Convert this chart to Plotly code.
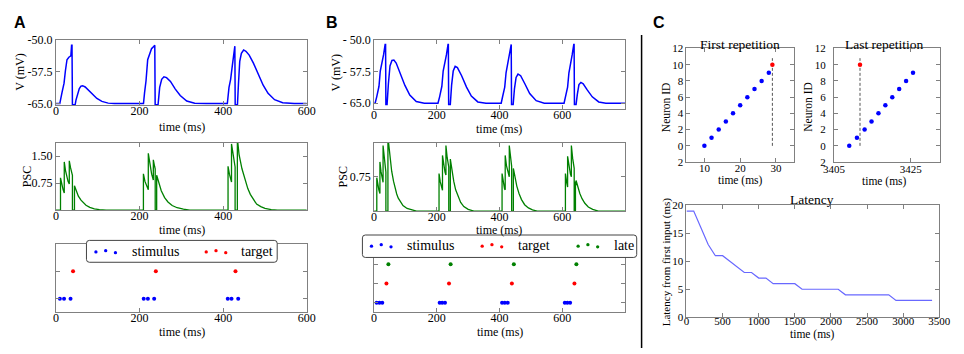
import plotly.graph_objects as go

W, H = 964, 354
SERIF = "Liberation Serif"
SANS = "Liberation Sans"

# ---------------- DATA ----------------
# Panel A – membrane potential (ms, mV)
a_v_t = [0, 9.3, 14.8, 19.5, 22.6, 26.5, 31, 35.8, 37.5, 38.5, 39.5, 46, 48, 52, 56, 60, 64, 70, 78, 88, 98, 110, 125, 140,
         209.5, 212, 215.5, 219.5, 223.4, 228.7, 231.8, 235.5, 236.5, 237.4, 244.3, 246, 248.2, 253, 258.4, 264.6, 274, 285.6, 297.3, 312.9, 332, 360,
         410, 414, 417.9, 421.8, 424.9, 427, 428, 428.8, 434.2, 436.6, 439.7, 443.6, 449, 454.5, 462.3, 472.4, 484, 495.7, 507.4, 523, 542.4, 570, 600]
a_v = [-65, -65, -62.3, -60.2, -57.4, -54.7, -54.1, -53.8, -51.3, -51.3, -65.3, -65.3, -64.2, -62.5, -61.5, -60.9, -60.8, -61.1, -61.9, -62.9, -63.8, -64.5, -64.9, -65,
       -65, -62.5, -59.7, -54.7, -53.6, -52.1, -51.8, -51.3, -51.3, -65.3, -65.3, -63.5, -61.2, -59.3, -58.7, -58.9, -59.8, -61.6, -63.1, -64.4, -64.9, -65,
       -65, -61.2, -59.3, -56.2, -54.0, -51.5, -51.5, -65.3, -65.3, -60.4, -55.1, -53.2, -52.4, -52.7, -53.6, -55.5, -58.1, -60.7, -62.6, -64.1, -64.8, -65, -65]

# Panel A – PSC
a_psc_t = [0, 11, 11, 14, 17, 20, 20, 23, 26, 29, 32, 32, 35, 38, 39.5, 39.5, 44.4, 44.4, 48, 53.7, 60, 65.4, 72, 81, 92, 104, 120,
           209.3, 209.3, 213, 217, 221, 221, 225, 229, 233, 233, 236, 237.5, 237.5, 241, 241, 246, 252, 260, 268, 278, 290, 305, 320,
           411.7, 411.7, 415, 420, 420, 424, 428.6, 428.6, 434, 434, 438, 445, 453, 459, 465, 472, 480, 490, 500, 515, 530, 600]
a_psc = [0, 0, 0.90, 0.72, 0.58, 0.48, 1.34, 1.10, 0.92, 0.80, 0.73, 1.37, 1.18, 1.03, 0.97, 0, 0, 0.68, 0.55, 0.39, 0.28, 0.21, 0.14, 0.08, 0.04, 0.02, 0,
         0, 1.01, 0.80, 0.65, 0.57, 1.58, 1.22, 1.00, 0.84, 1.40, 1.22, 1.15, 0, 0, 0.97, 0.74, 0.54, 0.35, 0.23, 0.13, 0.07, 0.03, 0,
         0, 1.22, 1.00, 0.78, 1.84, 1.50, 1.20, 0, 0, 2.0, 1.55, 1.15, 0.79, 0.60, 0.44, 0.30, 0.17, 0.10, 0.05, 0.02, 0, 0]

# Panel A – raster
a_stim_t = [9.5, 19.5, 35, 210, 220, 235, 411, 420, 436]
a_stim_id = [0, 0, 0, 0, 0, 0, 0, 0, 0]
a_targ_t = [41, 239, 429.5]
a_targ_id = [1, 1, 1]

# Panel B – membrane potential
b_v_t = [0, 3.1, 8.3, 12.4, 15.5, 19.6, 24.8, 30, 35.1, 36.5, 37.5, 41.3, 45.5, 50.6, 56.8, 63, 70.3, 82.7, 98.2, 113.7, 134.4, 160,
         203.6, 208.8, 212.9, 216, 220.2, 225.3, 230.5, 235.7, 236.7, 237.7, 242.9, 247, 252.2, 258.4, 265.6, 279, 294.6, 310, 330.7, 356.6,
         405.2, 409.3, 413.4, 416.5, 420.7, 425.8, 431, 436.2, 437.2, 438.2, 443.4, 447.5, 452.7, 458.9, 467.2, 480.6, 496.1, 516.8, 542.6,
         605.7, 609.8, 614, 617, 621.2, 626.4, 631.5, 636.7, 637.7, 638.8, 644, 648, 653.2, 659.4, 666.7, 679, 695.6, 716.3, 739, 800]
b_v = [-65, -65, -63.5, -62.1, -61.0, -57.4, -55.7, -53.6, -51.1, -51.1, -65.3, -65.3, -60.4, -56.2, -54.9, -54.8, -55.5, -57.8, -60.8, -63.1, -64.6, -65,
       -65, -63.5, -62.1, -61.0, -57.4, -55.7, -53.6, -51.1, -51.1, -65.3, -65.3, -60.8, -57.4, -56.3, -56.6, -58.5, -61.2, -63.3, -64.7, -65,
       -65, -63.6, -62.2, -61.2, -57.8, -55.9, -53.6, -51.1, -51.1, -65.3, -65.3, -61.6, -58.9, -58.1, -58.5, -60.4, -62.7, -64.4, -65,
       -65, -63.6, -62.2, -61.2, -57.8, -55.9, -53.6, -51.1, -51.1, -65.3, -65.3, -62.9, -60.6, -60.1, -60.4, -61.8, -63.5, -64.7, -65, -65]

# Panel B – PSC
b_psc_t = [0, 8.5, 8.5, 12, 15, 18.5, 18.5, 22, 25, 28.5, 28.5, 32, 35, 37.5, 37.5, 44, 44, 48, 52, 56, 62, 66.4, 72, 77, 85, 92, 105, 118, 135,
           207, 207, 211, 215, 218, 218, 222, 226, 229, 229, 233, 238, 238, 243, 243, 248, 254, 260, 268, 276, 286, 300, 318,
           408, 408, 412, 416, 418, 418, 422, 428, 431, 431, 435, 438.5, 438.5, 444, 444, 449, 455, 462, 470, 480, 492, 505, 520,
           610, 610, 614, 617, 617, 621, 626, 629, 629, 633, 638, 638, 642, 642, 644, 644, 650, 656, 663, 672, 683, 697, 715, 800]
b_psc = [0, 0, 0.72, 0.56, 0.46, 0.38, 1.06, 0.85, 0.72, 0.62, 1.41, 1.12, 0.95, 0.84, 0, 0, 1.6, 1.3, 1.05, 0.86, 0.64, 0.50, 0.37, 0.28, 0.18, 0.12, 0.06, 0.03, 0,
         0, 0.81, 0.63, 0.50, 0.45, 1.20, 0.98, 0.84, 0.78, 1.41, 1.15, 0.95, 0, 0, 1.12, 0.88, 0.64, 0.46, 0.30, 0.19, 0.10, 0.04, 0,
         0, 0.81, 0.62, 0.48, 0.46, 1.20, 0.98, 0.80, 0.74, 1.41, 1.13, 0.97, 0, 0, 0.92, 0.72, 0.54, 0.38, 0.25, 0.14, 0.07, 0.03, 0,
         0, 0.81, 0.62, 0.52, 1.18, 0.97, 0.80, 0.74, 1.41, 1.14, 0.92, 0, 0, 0.64, 0.56, 0.66, 0.50, 0.38, 0.27, 0.17, 0.09, 0.04, 0, 0]

# Panel B – raster
b_stim_t = [8, 17, 26, 209, 217, 226, 408, 416.5, 426, 608, 616, 625]
b_stim_id = [0] * 12
b_targ_t = [39.3, 238.8, 439.3, 638.8]
b_targ_id = [1, 1, 1, 1]
b_late_t = [45.5, 244, 445.5, 645]
b_late_id = [2, 2, 2, 2]

# Panel C – first / last repetition
first_t = [10, 12, 14, 16, 18, 20, 22, 24, 26, 28]
first_id = [0, 1, 2, 3, 4, 5, 6, 7, 8, 9]
first_targ_t = [29]
first_targ_id = [10]
last_t = [3409, 3411, 3413, 3414.8, 3416.6, 3418.4, 3420.2, 3422, 3423.8, 3425.6]
last_id = [0, 1, 2, 3, 4, 5, 6, 7, 8, 9]
last_targ_t = [3411.8]
last_targ_id = [10]
marker_line_id = [0, 10.8]

# Panel C – latency
lat_t = [0, 100, 200, 300, 400, 500, 600, 700, 800, 900, 1000, 1100, 1200, 1300, 1400, 1500, 1600, 1700,
         1800, 1900, 2000, 2100, 2200, 2300, 2400, 2500, 2600, 2700, 2800, 2900, 3000, 3100, 3200, 3300, 3400]
lat_v = [19, 19, 16, 13, 11, 11, 10, 9, 8, 8, 7, 7, 6, 6, 6, 6, 5, 5,
         5, 5, 5, 5, 4, 4, 4, 4, 4, 4, 4, 3, 3, 3, 3, 3, 3]

# tick labels
a_v_ticks = [-65, -57.5, -50]
a_v_ticktext = ["-65.0", "-57.5", "-50.0"]
b_v_ticktext = ["- 65.0", "- 57.5", "- 50.0"]
a_psc_ticks = [0.75, 1.5]
a_psc_ticktext = ["0.75", "1.50"]
b_psc_ticks = [0.75]
b_psc_ticktext = ["0.75"]
id_ticks = [-2, 0, 2, 4, 6, 8, 10, 12]
id_ticktext = ["2", "0", "2", "4", "6", "8", "10", "12"]

# ---------------- FIGURE ----------------
BLUE, RED, GREEN = "#0000ff", "#ff0000", "#008000"


def dx(a, b):
    return [a / W, b / W]


def dy(top, bottom):
    return [1 - bottom / H, 1 - top / H]


def P(x, y):
    return x / W, 1 - y / H


fig = go.Figure()

fig.add_trace(go.Scatter(x=a_v_t, y=a_v, mode="lines", line=dict(color=BLUE, width=1.5), xaxis="x", yaxis="y"))
fig.add_trace(go.Scatter(x=a_psc_t, y=a_psc, mode="lines", line=dict(color=GREEN, width=1.3), xaxis="x2", yaxis="y2"))
mk = dict(size=4)
fig.add_trace(go.Scatter(x=a_stim_t, y=a_stim_id, mode="markers", marker=dict(color=BLUE, **mk), xaxis="x3", yaxis="y3"))
fig.add_trace(go.Scatter(x=a_targ_t, y=a_targ_id, mode="markers", marker=dict(color=RED, **mk), xaxis="x3", yaxis="y3"))

fig.add_trace(go.Scatter(x=b_v_t, y=b_v, mode="lines", line=dict(color=BLUE, width=1.5), xaxis="x4", yaxis="y4"))
fig.add_trace(go.Scatter(x=b_psc_t, y=b_psc, mode="lines", line=dict(color=GREEN, width=1.3), xaxis="x5", yaxis="y5"))
fig.add_trace(go.Scatter(x=b_stim_t, y=b_stim_id, mode="markers", marker=dict(color=BLUE, **mk), xaxis="x6", yaxis="y6"))
fig.add_trace(go.Scatter(x=b_targ_t, y=b_targ_id, mode="markers", marker=dict(color=RED, **mk), xaxis="x6", yaxis="y6"))
fig.add_trace(go.Scatter(x=b_late_t, y=b_late_id, mode="markers", marker=dict(color=GREEN, **mk), xaxis="x6", yaxis="y6"))

dash = dict(color="#555555", width=1, dash="3px,2px")
fig.add_trace(go.Scatter(x=first_targ_t * 2, y=marker_line_id, mode="lines", line=dash, xaxis="x7", yaxis="y7"))
fig.add_trace(go.Scatter(x=first_t, y=first_id, mode="markers", marker=dict(color=BLUE, size=4.5), xaxis="x7", yaxis="y7"))
fig.add_trace(go.Scatter(x=first_targ_t, y=first_targ_id, mode="markers", marker=dict(color=RED, size=4.5), xaxis="x7", yaxis="y7"))
fig.add_trace(go.Scatter(x=last_targ_t * 2, y=marker_line_id, mode="lines", line=dash, xaxis="x8", yaxis="y8"))
fig.add_trace(go.Scatter(x=last_t, y=last_id, mode="markers", marker=dict(color=BLUE, size=4.5), xaxis="x8", yaxis="y8"))
fig.add_trace(go.Scatter(x=last_targ_t, y=last_targ_id, mode="markers", marker=dict(color=RED, size=4.5), xaxis="x8", yaxis="y8"))
fig.add_trace(go.Scatter(x=lat_t, y=lat_v, mode="lines", line=dict(color="#6868ff", width=1.2), xaxis="x9", yaxis="y9"))

base = dict(showline=True, linecolor="#808080", linewidth=1, mirror="allticks", ticks="inside",
            ticklen=4, tickwidth=1, tickcolor="#808080", showgrid=False, zeroline=False, fixedrange=True)

specs = {
    1: ((46, 303), (34, 102), [0, 600], [-65.4, -50], [0, 200, 400, 600], a_v_ticks, a_v_ticktext, True, 12, -6, 0),
    2: ((46, 303), (141, 211), [0, 600], [0, 1.87], [0, 200, 400], a_psc_ticks, a_psc_ticktext, True, 12, -6, 0),
    3: ((46, 303), (246, 317), [0, 600], [-0.5, 2.0], [0, 200, 400, 600], [0, 1], None, False, 12, -6, 0),
    4: ((372, 629), (34, 106), [0, 800], [-66.4, -50], [0, 200, 400, 600], a_v_ticks, b_v_ticktext, True, 12, -6, 0),
    5: ((372, 629), (141, 212), [0, 800], [0, 1.47], [0, 200, 400, 600], b_psc_ticks, b_psc_ticktext, True, 12, -6, 0),
    6: ((372, 629), (247, 317), [0, 800], [-0.5, 3.0], [0, 200, 400, 600], [0, 1, 2], None, False, 12, -6, 0),
    7: ((692, 802), (43, 161), [5, 35], [-2, 12], [10, 20, 30], id_ticks, id_ticktext, True, 11, -4, 0),
    8: ((843, 952), (43, 161), [3405, 3432.7], [-2, 12], [3405, 3425], id_ticks, id_ticktext, True, 11, -3, 5),
    9: ((692, 951), (206, 322), [0, 3500], [0, 20], [0, 500, 1000, 1500, 2000, 2500, 3000, 3500],
        [0, 5, 10, 15, 20], ["0", "5", "10", "15", "20"], True, 11, -6, 0),
}

layout_axes = {}
for i, (xd, yd, xr, yr, xt, yt, ytt, showy, fs, so, yso) in specs.items():
    sx = "" if i == 1 else str(i)
    ax = dict(base)
    ax.update(domain=dx(*xd), range=xr, tickvals=xt, anchor="y" + sx, ticklabelstandoff=so,
              tickfont=dict(family=SERIF, size=fs, color="black"))
    ay = dict(base)
    ay.update(domain=dy(*yd), range=yr, tickvals=yt, anchor="x" + sx, showticklabels=showy,
              ticklabelstandoff=yso, tickfont=dict(family=SERIF, size=fs, color="black"))
    if ytt is not None:
        ay["ticktext"] = ytt
    layout_axes["xaxis" + sx] = ax
    layout_axes["yaxis" + sx] = ay

fig.update_layout(**layout_axes)

ann = []


def label(text, x, y, size=12, angle=0, family=SERIF, color="black"):
    px, py = P(x, y)
    ann.append(dict(text=text, x=px, y=py, xref="paper", yref="paper", showarrow=False,
                    xanchor="center", yanchor="middle", textangle=angle,
                    font=dict(family=family, size=size, color=color)))


def label_left(text, x, y, size=14):
    px, py = P(x, y)
    ann.append(dict(text=text, x=px, y=py, xref="paper", yref="paper", showarrow=False,
                    xanchor="left", yanchor="middle", font=dict(family=SERIF, size=size, color="black")))


label("<b>A</b>", 9, 16, size=16, family=SANS)
label("<b>B</b>", 329, 16, size=16, family=SANS)
label("<b>C</b>", 664, 16, size=16, family=SANS)

label("V (mV)", 8.5, 68, angle=-90)
label("time (ms)", 175, 124.5)
label("PSC", 16, 176, angle=-90)
label("time (ms)", 175, 232)
label("time (ms)", 175, 337)
label("V (mV)", 333, 69, angle=-90)
label("time (ms)", 500, 127)
label("PSC", 340, 176, angle=-90)
label("time (ms)", 500, 232)
label("time (ms)", 501, 337)

label("First repetition", 747, 39, size=13.5)
label("Last repetition", 895, 39, size=13.5)
label("Neuron ID", 671, 104, size=11.5, angle=-90)
label("Neuron ID", 817, 104, size=11.5, angle=-90)
label("time (ms)", 747, 180, size=11.5)
label("time (ms)", 895, 181, size=11.5)
label("Latency", 821, 200, size=13.5)
label("Latency from first input (ms)", 671, 264, size=11, angle=-90)
label("time (ms)", 821, 340, size=11.5)

label_left("stimulus", 122, 253.5)
label_left("target", 234, 253.5)
label_left("stimulus", 404, 247.5)
label_left("target", 517, 247.5)
label_left("late", 616, 247.5)

shapes = []


def rrect(x0, y0, x1, y1, r):
    pts = [("M", x0 + r, y0), ("L", x1 - r, y0), ("Q", x1, y0, x1, y0 + r), ("L", x1, y1 - r),
           ("Q", x1, y1, x1 - r, y1), ("L", x0 + r, y1), ("Q", x0, y1, x0, y1 - r), ("L", x0, y0 + r),
           ("Q", x0, y0, x0 + r, y0)]
    s = ""
    for p in pts:
        coords = p[1:]
        parts = []
        for k in range(0, len(coords), 2):
            X, Y = P(coords[k], coords[k + 1])
            parts.append(f"{X:.5f},{Y:.5f}")
        s += p[0] + " " + " ".join(parts) + " "
    return s + "Z"


shapes.append(dict(type="path", path=rrect(77.3, 242.3, 272.7, 265, 3), xref="paper", yref="paper",
                   fillcolor="white", line=dict(color="#444444", width=1), layer="above"))
shapes.append(dict(type="path", path=rrect(360, 236.7, 641, 260, 3), xref="paper", yref="paper",
                   fillcolor="white", line=dict(color="#444444", width=1), layer="above"))


def dot(x, y, color, r=1.7):
    x0, y0 = P(x - r, y + r)
    x1, y1 = P(x + r, y - r)
    shapes.append(dict(type="circle", x0=x0, y0=y0, x1=x1, y1=y1, xref="paper", yref="paper",
                       fillcolor=color, line=dict(width=0), layer="above"))


for (x0, c) in [(87, BLUE), (200, RED)]:
    for ddx, ddy in [(0, 0.3), (10, -1.0), (20, 1.0)]:
        dot(x0 + ddx, 254 + ddy, c)
for (x0, c) in [(369.3, BLUE), (482.7, RED), (581, GREEN)]:
    for ddx, ddy in [(0, 0.3), (10, -1.3), (20, 1.0)]:
        dot(x0 + ddx, 248 + ddy, c)

x_div = 646 / W
shapes.append(dict(type="line", x0=x_div, x1=x_div, y0=1 - 29 / H, y1=0, xref="paper", yref="paper",
                   line=dict(color="black", width=1.5), layer="above"))

fig.update_layout(width=W, height=H, margin=dict(l=0, r=0, t=0, b=0), autosize=False,
                  paper_bgcolor="white", plot_bgcolor="white", showlegend=False,
                  annotations=ann, shapes=shapes)

fig.write_html("out.html", config={"displayModeBar": False},
               post_script="document.body.style.margin='0';document.body.style.overflow='hidden';")
